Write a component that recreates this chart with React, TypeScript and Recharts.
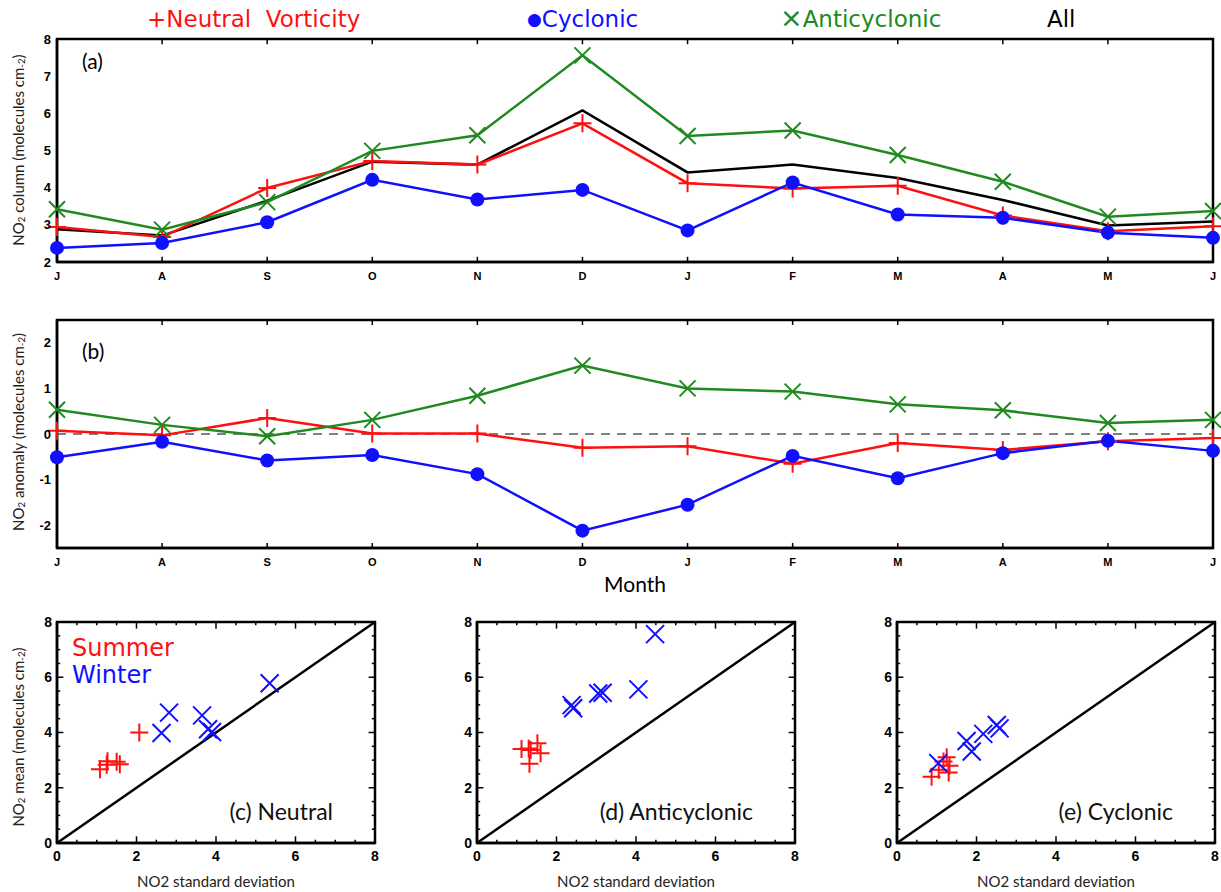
import React from 'react';
import { LineChart, Line, XAxis, YAxis, ReferenceLine, ReferenceArea, ScatterChart, Scatter } from 'recharts';

// month axis, July to June
const months = ['J', 'A', 'S', 'O', 'N', 'D', 'J', 'F', 'M', 'A', 'M', 'J'];

// (a) NO2 column
const neutralCol = [2.94, 2.67, 3.99, 4.72, 4.62, 5.73, 4.12, 3.98, 4.05, 3.25, 2.83, 2.96];
const cyclonicCol = [2.38, 2.51, 3.07, 4.21, 3.68, 3.94, 2.85, 4.14, 3.28, 3.19, 2.79, 2.65];
const anticycCol = [3.42, 2.87, 3.61, 4.99, 5.41, 7.56, 5.39, 5.54, 4.88, 4.16, 3.22, 3.37];
const allCol = [2.88, 2.71, 3.65, 4.7, 4.62, 6.08, 4.41, 4.62, 4.26, 3.67, 2.98, 3.09];

// (b) NO2 anomaly
const neutralAnom = [0.07, -0.03, 0.35, 0.01, 0.01, -0.3, -0.27, -0.65, -0.2, -0.35, -0.16, -0.09];
const cyclonicAnom = [-0.51, -0.17, -0.58, -0.46, -0.88, -2.12, -1.55, -0.48, -0.97, -0.42, -0.15, -0.37];
const anticycAnom = [0.53, 0.2, -0.05, 0.31, 0.84, 1.5, 1.0, 0.93, 0.65, 0.52, 0.24, 0.31];

// (c)-(e) [std dev, mean]
const neutralSummer = [[1.08, 2.67], [1.27, 2.96], [1.25, 2.83], [1.5, 2.94], [1.58, 2.85], [2.07, 4.0]];
const neutralWinter = [[2.63, 3.98], [2.82, 4.72], [3.65, 4.62], [3.8, 4.12], [3.9, 4.02], [5.35, 5.78]];
const anticycSummer = [[1.12, 3.4], [1.3, 3.42], [1.52, 3.61], [1.6, 3.25], [1.32, 2.87], [1.35, 3.37]];
const anticycWinter = [[2.38, 4.99], [2.42, 4.88], [3.05, 5.41], [3.16, 5.44], [4.06, 5.56], [4.48, 7.56]];
const cyclonicSummer = [[0.87, 2.4], [1.05, 2.65], [1.17, 2.95], [1.25, 3.1], [1.3, 2.55], [1.32, 2.8]];
const cyclonicWinter = [[1.04, 2.89], [1.75, 3.69], [1.88, 3.31], [2.17, 3.95], [2.51, 4.27], [2.58, 4.15]];

const monthTicks = months.map((_, i) => i);
const halfTicks = Array.from({ length: 17 }, (_, i) => i / 2);

const RED = '#ff1010';
const BLUE = '#1010ff';
const GREEN = '#208a20';
const tickFont = { fontFamily: 'Liberation Sans', fontWeight: 'bold', fill: '#000' };
const titleFont = 'Lato';
const axisLine = { stroke: '#000', strokeWidth: 2.5 };

const PlusMark = ({ cx, cy, color, s = 9 }: any) => (
  <path d={`M${cx - s},${cy}H${cx + s}M${cx},${cy - s}V${cy + s}`} stroke={color} strokeWidth={2} fill="none" />
);
const CrossMark = ({ cx, cy, color, s = 9 }: any) => (
  <path d={`M${cx - s},${cy - s}L${cx + s},${cy + s}M${cx - s},${cy + s}L${cx + s},${cy - s}`} stroke={color} strokeWidth={2} fill="none" />
);

const colData = months.map((m, i) => ({
  i,
  neutral: neutralCol[i],
  cyclonic: cyclonicCol[i],
  anticyc: anticycCol[i],
  all: allCol[i],
}));
const anomData = months.map((m, i) => ({
  i,
  neutral: neutralAnom[i],
  cyclonic: cyclonicAnom[i],
  anticyc: anticycAnom[i],
}));

// short inward tick segments on top and bottom edges
function edgeTicksX(ticks: number[], lo: number, hi: number, len: (t: number) => number, key: string) {
  return ticks.flatMap((t) => [
    <ReferenceLine key={`${key}b${t}`} segment={[{ x: t, y: lo }, { x: t, y: lo + len(t) }]} stroke="#000" strokeWidth={1.5} ifOverflow="visible" />,
    <ReferenceLine key={`${key}t${t}`} segment={[{ x: t, y: hi }, { x: t, y: hi - len(t) }]} stroke="#000" strokeWidth={1.5} ifOverflow="visible" />,
  ]);
}
function edgeTicksY(ticks: number[], lo: number, hi: number, len: (t: number) => number, key: string) {
  return ticks.flatMap((t) => [
    <ReferenceLine key={`${key}l${t}`} segment={[{ x: lo, y: t }, { x: lo + len(t), y: t }]} stroke="#000" strokeWidth={1.5} ifOverflow="visible" />,
    <ReferenceLine key={`${key}r${t}`} segment={[{ x: hi, y: t }, { x: hi - len(t), y: t }]} stroke="#000" strokeWidth={1.5} ifOverflow="visible" />,
  ]);
}

function TimePanel({ data, top, height, plotTop, plotBottom, domain, ticks, zero, withAll, tickLen }: any) {
  return (
    <div style={{ position: 'absolute', left: 0, top }}>
      <LineChart width={1221} height={height} data={data} margin={{ top: plotTop, right: 8, bottom: 0, left: 0 }}>
        <XAxis
          dataKey="i"
          type="number"
          domain={[0, 11]}
          ticks={monthTicks}
          tickFormatter={(v: number) => months[v]}
          height={height - plotBottom}
          axisLine={axisLine}
          tickLine={false}
          tickSize={0}
          tickMargin={10}
          tick={{ ...tickFont, fontSize: 11 }}
        />
        <YAxis
          type="number"
          domain={domain}
          ticks={ticks}
          width={57}
          axisLine={axisLine}
          tickLine={false}
          tickSize={0}
          tickMargin={6}
          tick={{ ...tickFont, fontSize: 13 }}
        />
        <ReferenceArea
          x1={0}
          x2={11}
          y1={domain[0]}
          y2={domain[1]}
          fill="none"
          fillOpacity={0}
          stroke="#000"
          strokeWidth={2.5}
          ifOverflow="visible"
        />
        {edgeTicksX(monthTicks.slice(1, -1), domain[0], domain[1], () => tickLen, 'm')}
        {zero && <ReferenceLine y={0} stroke="#555" strokeWidth={1.5} strokeDasharray="9 7" />}
        {withAll && <Line dataKey="all" stroke="#000" strokeWidth={2.5} dot={false} isAnimationActive={false} />}
        <Line
          dataKey="neutral"
          stroke={RED}
          strokeWidth={2.5}
          isAnimationActive={false}
          dot={(p: any) => <PlusMark key={`n${p.index}`} cx={p.cx} cy={p.cy} color={RED} s={9} />}
        />
        <Line
          dataKey="anticyc"
          stroke={GREEN}
          strokeWidth={2.5}
          isAnimationActive={false}
          dot={(p: any) => <CrossMark key={`a${p.index}`} cx={p.cx} cy={p.cy} color={GREEN} s={8} />}
        />
        <Line
          dataKey="cyclonic"
          stroke={BLUE}
          strokeWidth={2.5}
          isAnimationActive={false}
          dot={(p: any) => <circle key={`c${p.index}`} cx={p.cx} cy={p.cy} r={7} fill={BLUE} />}
        />
      </LineChart>
    </div>
  );
}

const toPts = (arr: number[][]) => arr.map(([x, y]) => ({ x, y }));
const inner = halfTicks.slice(1, -1);

function ScatterPanel({ left, summer, winter, title }: any) {
  const yw = 45;
  return (
    <div style={{ position: 'absolute', left: left - yw, top: 600 }}>
      <ScatterChart width={318 + yw + 8} height={292} margin={{ top: 22, right: 8, bottom: 0, left: 0 }}>
        <XAxis
          dataKey="x"
          type="number"
          domain={[0, 8]}
          ticks={halfTicks}
          tickFormatter={(v: number) => (v % 2 === 0 ? String(v) : '')}
          height={292 - 243}
          axisLine={axisLine}
          tickLine={false}
          tickSize={0}
          tickMargin={8}
          interval={0}
          tick={{ ...tickFont, fontSize: 14 }}
        />
        <YAxis
          dataKey="y"
          type="number"
          domain={[0, 8]}
          ticks={halfTicks}
          tickFormatter={(v: number) => (v % 2 === 0 ? String(v) : '')}
          width={yw}
          axisLine={axisLine}
          tickLine={false}
          tickSize={0}
          tickMargin={5}
          interval={0}
          tick={{ ...tickFont, fontSize: 14 }}
        />
        <ReferenceArea x1={0} x2={8} y1={0} y2={8} fill="none" fillOpacity={0} stroke="#000" strokeWidth={2.5} ifOverflow="visible" />
        {edgeTicksX(inner, 0, 8, (t) => (t % 2 === 0 ? 0.24 : 0.12), 'x')}
        {edgeTicksY(inner, 0, 8, (t) => (t % 2 === 0 ? 0.16 : 0.08), 'y')}
        <ReferenceLine segment={[{ x: 0, y: 0 }, { x: 8, y: 8 }]} stroke="#000" strokeWidth={2.5} />
        <Scatter
          data={toPts(summer)}
          isAnimationActive={false}
          shape={(p: any) => <PlusMark cx={p.cx} cy={p.cy} color={RED} s={9} />}
        />
        <Scatter
          data={toPts(winter)}
          isAnimationActive={false}
          shape={(p: any) => <CrossMark cx={p.cx} cy={p.cy} color={BLUE} s={9} />}
        />
      </ScatterChart>
      <div style={{ position: 'absolute', right: 50, top: 197, fontFamily: titleFont, fontSize: 23, color: '#111', whiteSpace: 'nowrap' }}>
        {title}
      </div>
      <div style={{ position: 'absolute', left: yw, width: 318, top: 272, textAlign: 'center', fontFamily: titleFont, fontSize: 15, color: '#222' }}>
        NO2 standard deviation
      </div>
    </div>
  );
}

function RotLabel({ cy, children }: any) {
  return (
    <div
      style={{
        position: 'absolute',
        left: 18,
        top: cy,
        transform: 'translate(-50%, -50%) rotate(-90deg)',
        whiteSpace: 'nowrap',
        fontFamily: titleFont,
        fontSize: 15,
        color: '#222',
      }}
    >
      {children}
    </div>
  );
}

const sub = { fontSize: '0.65em', verticalAlign: '-0.15em' };
const legendFont = { position: 'absolute' as const, top: 6, fontFamily: 'DejaVu Sans', fontSize: 23, whiteSpace: 'nowrap' as const };

export default function App() {
  return (
    <div style={{ position: 'absolute', left: 0, top: 0, width: 1221, height: 892, background: '#fff', overflow: 'hidden' }}>
      <div style={{ ...legendFont, left: 147, color: RED }}>+Neutral&nbsp; Vorticity</div>
      <div style={{ ...legendFont, left: 527, color: BLUE }}>
        <span style={{ fontSize: 17, verticalAlign: '0.12em' }}>●</span>Cyclonic
      </div>
      <div style={{ ...legendFont, left: 780, color: GREEN }}>
        <span style={{ fontSize: 27, lineHeight: 0 }}>×</span>Anticyclonic
      </div>
      <div style={{ ...legendFont, left: 1047, color: '#000' }}>All</div>

      <TimePanel data={colData} top={0} height={300} plotTop={39} plotBottom={262} domain={[2, 8]} ticks={[2, 3, 4, 5, 6, 7, 8]} tickLen={0.14} withAll />
      <TimePanel data={anomData} top={300} height={300} plotTop={20} plotBottom={248} domain={[-2.5, 2.5]} ticks={[-2, -1, 0, 1, 2]} tickLen={0.11} zero />

      <div style={{ position: 'absolute', left: 82, top: 48, fontFamily: titleFont, fontSize: 21 }}>(a)</div>
      <div style={{ position: 'absolute', left: 82, top: 338, fontFamily: titleFont, fontSize: 21 }}>(b)</div>
      <div style={{ position: 'absolute', left: 635, top: 583, transform: 'translate(-50%, -50%)', fontFamily: titleFont, fontSize: 21 }}>Month</div>

      <RotLabel cy={150}>
        NO<span style={sub}>2</span> column (molecules cm<span style={sub}>-2</span>)
      </RotLabel>
      <RotLabel cy={432}>
        NO<span style={sub}>2</span> anomaly (molecules cm<span style={sub}>-2</span>)
      </RotLabel>
      <RotLabel cy={737}>
        NO<span style={sub}>2</span> mean (molecules cm<span style={sub}>-2</span>)
      </RotLabel>

      <ScatterPanel left={57} summer={neutralSummer} winter={neutralWinter} title="(c) Neutral" />
      <ScatterPanel left={477} summer={anticycSummer} winter={anticycWinter} title="(d) Anticyclonic" />
      <ScatterPanel left={897} summer={cyclonicSummer} winter={cyclonicWinter} title="(e) Cyclonic" />

      <div style={{ position: 'absolute', left: 72, top: 634, fontFamily: 'DejaVu Sans', fontSize: 24, color: RED }}>Summer</div>
      <div style={{ position: 'absolute', left: 72, top: 661, fontFamily: 'DejaVu Sans', fontSize: 24, color: BLUE }}>Winter</div>
    </div>
  );
}
